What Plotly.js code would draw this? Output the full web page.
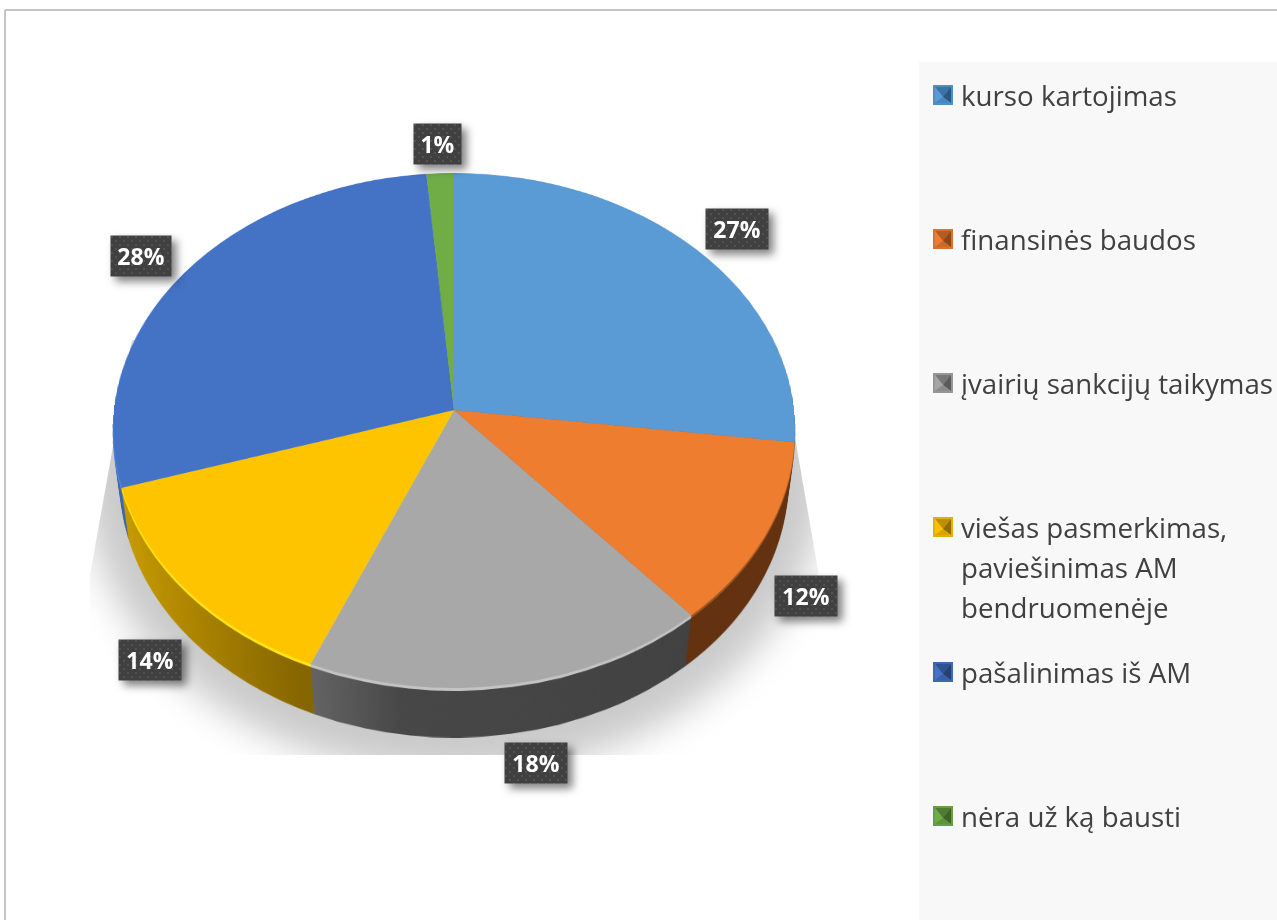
<!DOCTYPE html>
<html>
<head>
<meta charset="utf-8">
<script src="https://cdn.plot.ly/plotly-3.0.1.min.js"></script>
<style>
html,body{margin:0;padding:0;background:#fff;overflow:hidden}
#stage{position:relative;width:1277px;height:920px;overflow:hidden;background:#fff}
#shadowClip{position:absolute;left:0;top:0;width:1277px;height:920px;
  clip-path:polygon(132px 340px,90px 575px,90px 755px,818px 755px,818px 570px,785px 380px)}
#shadow{position:absolute;left:84px;top:175px;width:740px;height:600px;border-radius:50%;background:#cacaca;filter:blur(18px)}
.pie{position:absolute;left:114px;top:70px;width:680px;height:680px;transform-origin:50% 50%}
#overlay{position:absolute;left:0;top:0;width:1277px;height:920px}
.annotation-text-g rect.bg{filter:drop-shadow(5px 5px 4px rgba(0,0,0,.5))}
</style>
</head>
<body>
<div id="stage">
  <div id="shadowClip"><div id="shadow"></div></div>
  <div id="pies"></div>
  <div id="overlay"></div>
</div>
<script>
// ---------- data ----------
const categories = ['kurso kartojimas','finansinės baudos','įvairių sankcijų taikymas','viešas pasmerkimas,<br>paviešinimas AM<br>bendruomenėje','pašalinimas iš AM','nėra už ką bausti'];
const shares = [27, 11.6, 17.8, 13.8, 28.4, 1.4];
const topColors = ['#5b9bd5','#ef7d30','#a8a8a8','#ffc400','#4472c4','#70ad47'];
const rimColors = ['#2f6ea8','#9a5420','#c4c4c4','#ffe81a','#5f96ee','#8cc860'];
const sideStops = [
  [[400,'#2f5f92'],[680,'#2f5f92']],
  [[400,'#63310f'],[680,'#63310f']],
  [[198,'#666666'],[290,'#474747'],[578,'#414141']],
  [[10,'#c99c00'],[198,'#856500']],
  [[0,'#3a66ad'],[400,'#3a66ad']],
  [[0,'#4f7d30'],[680,'#4f7d30']]
];
const labelBoxes = [[737,229,62],[806,596,62],[536,763,62],[150,660,62],[141,256,60],[437,144,47]];
const legendRows = [95,239,383,527,672,816];
const markerShades = [
  ['#4d8fc9','#3d74a8','#5b9bd5','#2a5680','#4a86bd'],
  ['#d9722c','#b05c22','#ed7d31','#8a4719','#c96a28'],
  ['#969696','#787878','#a5a5a5','#5a5a5a','#8c8c8c'],
  ['#e8ae00','#bd8f00','#ffc000','#8f6c00','#d9a300'],
  ['#3e68b2','#30528f','#4472c4','#264171','#3a61a7'],
  ['#669e41','#507c33','#70ad47','#3f6227','#5f933c']
];

// ---------- the tilted disc ----------
const TILT = 'perspective(2813px) rotateX(41.2deg)';
const DEPTH = 80, STEP = 2.5;
const piesEl = document.getElementById('pies');
const svgNS = 'http://www.w3.org/2000/svg';

function disc(colors, depth){
  const d = document.createElement('div');
  d.className = 'pie';
  d.style.transform = TILT + ' translateZ(' + (-depth) + 'px)';
  piesEl.appendChild(d);
  Plotly.newPlot(d, [{
    type:'pie', labels:categories, values:shares, sort:false, direction:'clockwise', rotation:0,
    textinfo:'none', hoverinfo:'none', marker:{colors:colors, line:{width:0}}, domain:{x:[0,1],y:[0,1]}
  }], {width:680, height:680, margin:{l:0,r:0,t:0,b:0}, showlegend:false,
       paper_bgcolor:'rgba(0,0,0,0)', plot_bgcolor:'rgba(0,0,0,0)'},
  {staticPlot:true, displayModeBar:false});
  return d;
}
function shade(gd, id){
  const svg = gd.querySelector('svg.main-svg');
  const defs = document.createElementNS(svgNS,'defs');
  svg.insertBefore(defs, svg.firstChild);
  gd.querySelectorAll('.slice path.surface').forEach((p,i)=>{
    const g = document.createElementNS(svgNS,'linearGradient');
    g.setAttribute('id', id+'_'+i);
    g.setAttribute('gradientUnits','userSpaceOnUse');
    g.setAttribute('x1',0); g.setAttribute('x2',680); g.setAttribute('y1',0); g.setAttribute('y2',0);
    sideStops[i].forEach(s=>{
      const st = document.createElementNS(svgNS,'stop');
      st.setAttribute('offset', s[0]/680); st.setAttribute('stop-color', s[1]);
      g.appendChild(st);
    });
    defs.appendChild(g);
    p.style.fill = 'url(#'+id+'_'+i+')';
  });
}
let n = 0;
for(let t = DEPTH; t > 5; t -= STEP){
  shade(disc(topColors, t), 'side'+(n++));
}
disc(rimColors, 4.5);
disc(rimColors, 3);
disc(rimColors, 1.5);
disc(topColors, 0);

// ---------- labels, legend, frame ----------
const annotations = [];
const shapes = [
  {type:'rect',x0:919,x1:1277,y0:62,y1:920,fillcolor:'#f8f8f8',line:{width:0},layer:'below'},
  {type:'line',x0:5,x1:1277,y0:10,y1:10,line:{color:'#c4c4c4',width:2}},
  {type:'line',x0:5,x1:5,y0:10,y1:920,line:{color:'#c4c4c4',width:2}}
];
shares.forEach((v,i)=>{
  const b = labelBoxes[i];
  annotations.push({x:b[0],y:b[1],xref:'x',yref:'y',showarrow:false,text:'<b>'+Math.round(v)+'%</b>',
    width:b[2],height:40,borderpad:0,bgcolor:'#404040',xanchor:'center',yanchor:'middle',align:'center',valign:'middle',
    font:{family:'"Open Sans"',size:23,color:'#ffffff'}});
});
categories.forEach((c,i)=>{
  c.split('<br>').forEach((line,k)=>{
    annotations.push({x:960,y:legendRows[i]+k*40,xref:'x',yref:'y',showarrow:false,text:line,
      xanchor:'left',yanchor:'middle',align:'left',borderpad:0,
      font:{family:'"Open Sans"',size:27.7,color:'#404040'}});
  });
  const y = legendRows[i], s = markerShades[i];
  const x0=935, x1=951, y0=y-8, y1=y+8, cx=943, cy=y+2;
  shapes.push({type:'rect',x0:933,x1:953,y0:y-10,y1:y+10,fillcolor:s[0],line:{width:0}});
  const tri = (d,col)=>shapes.push({type:'path',path:d,fillcolor:col,line:{width:0}});
  tri(`M${x0},${y0}L${x1},${y0}L${cx},${cy}Z`, s[1]);
  tri(`M${x0},${y0}L${cx},${cy}L${x0},${y1}Z`, s[2]);
  tri(`M${x1},${y0}L${x1},${y1}L${cx},${cy}Z`, s[3]);
  tri(`M${x0},${y1}L${x1},${y1}L${cx},${cy}Z`, s[4]);
});
const overlay = document.getElementById('overlay');
Plotly.newPlot(overlay, [], {
  width:1277, height:920, margin:{l:0,r:0,t:0,b:0}, showlegend:false,
  paper_bgcolor:'rgba(0,0,0,0)', plot_bgcolor:'rgba(0,0,0,0)',
  xaxis:{range:[0,1277],visible:false,fixedrange:true},
  yaxis:{range:[920,0],visible:false,fixedrange:true},
  annotations:annotations, shapes:shapes
},{staticPlot:true, displayModeBar:false}).then(()=>{
  const svg = overlay.querySelector('svg.main-svg');
  const defs = document.createElementNS(svgNS,'defs');
  const pat = document.createElementNS(svgNS,'pattern');
  pat.setAttribute('id','dots'); pat.setAttribute('width',8); pat.setAttribute('height',8);
  pat.setAttribute('patternUnits','userSpaceOnUse');
  const bg = document.createElementNS(svgNS,'rect');
  bg.setAttribute('width',8); bg.setAttribute('height',8); bg.setAttribute('fill','#404040');
  pat.appendChild(bg);
  [[2,2],[6,6]].forEach(c=>{
    const ci = document.createElementNS(svgNS,'circle');
    ci.setAttribute('cx',c[0]); ci.setAttribute('cy',c[1]); ci.setAttribute('r',1);
    ci.setAttribute('fill','#585858'); pat.appendChild(ci);
  });
  defs.appendChild(pat); svg.insertBefore(defs, svg.firstChild);
  overlay.querySelectorAll('.annotation-text-g rect.bg').forEach(r=>{
    if(r.style.fill !== 'rgba(0, 0, 0, 0)' && r.style.fill !== 'transparent') r.style.fill='url(#dots)';
  });
});
</script>
</body>
</html>
